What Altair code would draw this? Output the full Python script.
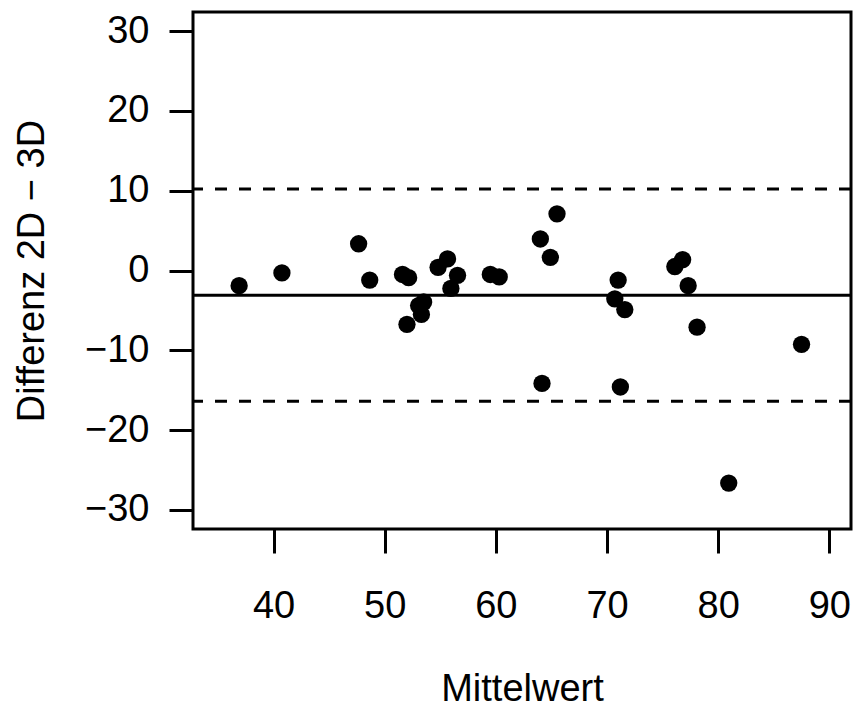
import altair as alt
import pandas as pd

# Bland-Altman data
mittelwert = [36.9, 40.75, 47.65, 48.65, 51.6, 52.15, 54.8, 55.65, 56.55, 55.95,
              53.5, 53.05, 53.3, 52.0, 59.5, 60.3, 64.0, 64.9, 65.5, 64.15,
              70.7, 71.0, 71.6, 71.2, 76.1, 76.8, 77.3, 78.1, 80.95, 87.5]
differenz = [-1.9, -0.3, 3.35, -1.2, -0.5, -0.9, 0.4, 1.45, -0.6, -2.25,
             -3.95, -4.4, -5.5, -6.75, -0.5, -0.8, 3.95, 1.65, 7.1, -14.15,
             -3.55, -1.2, -4.9, -14.6, 0.5, 1.35, -1.9, -7.1, -26.65, -9.25]
mean_line = [-3.1]
limit_lines = [10.2, -16.4]
x_ticks = [40, 50, 60, 70, 80, 90]
y_ticks = [-30, -20, -10, 0, 10, 20, 30]

df = pd.DataFrame({"Mittelwert": mittelwert, "Differenz": differenz})
mean_df = pd.DataFrame({"y": mean_line})
loa_df = pd.DataFrame({"y": limit_lines})

FONT = "Liberation Sans"
xscale = alt.Scale(domain=[32.75, 91.95], nice=False, zero=False)
yscale = alt.Scale(domain=[-32.4, 32.4], nice=False, zero=False)

xaxis = alt.Axis(values=x_ticks, title="Mittelwert", labelPadding=34, titlePadding=45)
yaxis = alt.Axis(values=y_ticks, title="Differenz 2D − 3D", labelPadding=20, titlePadding=33)

mean_rule = alt.Chart(mean_df).mark_rule(color="black", strokeWidth=3).encode(
    y=alt.Y("y:Q", scale=yscale, axis=yaxis)
)
loa_rule = alt.Chart(loa_df).mark_rule(color="black", strokeWidth=3, strokeDash=[12, 12]).encode(
    y=alt.Y("y:Q", scale=yscale, axis=yaxis)
)
points = alt.Chart(df).mark_circle(size=300, color="black", opacity=1).encode(
    x=alt.X("Mittelwert:Q", scale=xscale, axis=xaxis),
    y=alt.Y("Differenz:Q", scale=yscale, axis=yaxis),
)

chart = alt.layer(loa_rule, mean_rule, points).properties(
    width=658,
    height=517,
    autosize=alt.AutoSizeParams(type="none"),
    padding={"left": 193, "top": 12, "right": 2, "bottom": 182},
    background="white",
).configure_view(
    stroke="black", strokeWidth=3
).configure_axis(
    grid=False,
    domain=False,
    ticks=True,
    tickColor="black",
    tickWidth=3,
    tickSize=24,
    labelFont=FONT,
    labelFontSize=38,
    labelColor="black",
    titleFont=FONT,
    titleFontSize=38,
    titleFontWeight="normal",
    titleColor="black",
)

chart.save("out.html", embed_options={"renderer": "svg", "actions": False})
